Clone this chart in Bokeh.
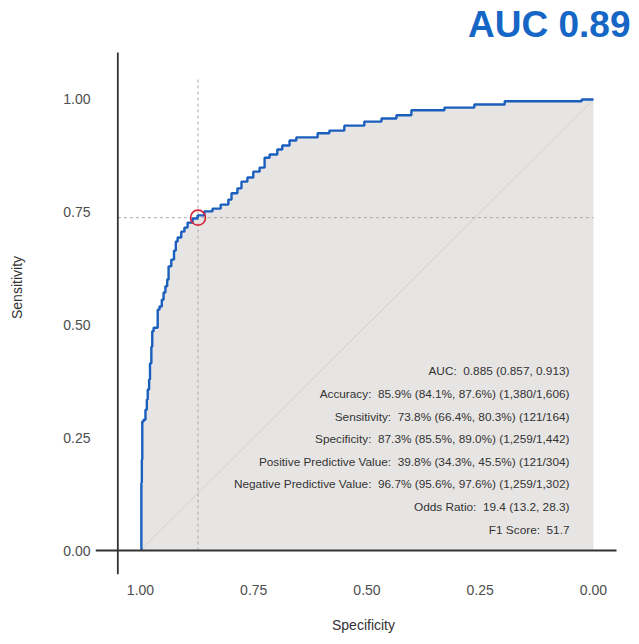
from bokeh.plotting import figure
from bokeh.models import Range1d, ColumnDataSource, Label
from bokeh.core.properties import value
from bokeh.embed import file_html
from bokeh.resources import INLINE

# ROC curve vertices (specificity, sensitivity); step: rise first, then move right
spec = [0.998, 0.997, 0.996, 0.993, 0.989, 0.986, 0.984, 0.981, 0.979, 0.976,
        0.974, 0.971, 0.962, 0.958, 0.953, 0.949, 0.945, 0.941, 0.938, 0.932,
        0.926, 0.922, 0.918, 0.910, 0.903, 0.896, 0.885, 0.874, 0.859, 0.841,
        0.823, 0.806, 0.799, 0.786, 0.777, 0.764, 0.751, 0.737, 0.726, 0.715,
        0.698, 0.687, 0.671, 0.656, 0.609, 0.583, 0.550, 0.506, 0.468, 0.435,
        0.402, 0.329, 0.263, 0.196, 0.026, 0.000]
sens = [0.000, 0.150, 0.202, 0.286, 0.290, 0.312, 0.335, 0.357, 0.379, 0.415,
        0.452, 0.486, 0.494, 0.534, 0.541, 0.556, 0.572, 0.586, 0.601, 0.630,
        0.645, 0.665, 0.685, 0.694, 0.707, 0.716, 0.727, 0.736, 0.743, 0.752,
        0.758, 0.767, 0.778, 0.792, 0.803, 0.818, 0.827, 0.840, 0.849, 0.871,
        0.878, 0.889, 0.898, 0.909, 0.916, 0.925, 0.931, 0.942, 0.951, 0.958,
        0.965, 0.976, 0.982, 0.989, 0.996, 1.000]

thr_spec = 0.873
thr_sens = 0.738

ticks = [0.0, 0.25, 0.5, 0.75, 1.0]
tick_labels = ["0.00", "0.25", "0.50", "0.75", "1.00"]

stats = [
    "AUC:\u00a0 0.885 (0.857, 0.913)",
    "Accuracy:\u00a0 85.9% (84.1%, 87.6%) (1,380/1,606)",
    "Sensitivity:\u00a0 73.8% (66.4%, 80.3%) (121/164)",
    "Specificity:\u00a0 87.3% (85.5%, 89.0%) (1,259/1,442)",
    "Positive Predictive Value:\u00a0 39.8% (34.3%, 45.5%) (121/304)",
    "Negative Predictive Value:\u00a0 96.7% (95.6%, 97.6%) (1,259/1,302)",
    "Odds Ratio:\u00a0 19.4 (13.2, 28.3)",
    "F1 Score:\u00a0 51.7",
]
title_text = "AUC 0.89"
x_title = "Specificity"
y_title = "Sensitivity"

FONT = "Liberation Sans"
AXIS_POS = 1.05          # where the crossing axis lines sit
X_LO, X_HI = 1.0993, -0.0839
Y_LO, Y_HI = -0.0532, 1.2195

p = figure(width=631, height=636, output_backend="svg", toolbar_location=None,
           x_range=Range1d(X_LO, X_HI), y_range=Range1d(Y_LO, Y_HI),
           min_border_left=95, min_border_right=0, min_border_top=0,
           min_border_bottom=62)
p.outline_line_color = None
p.xgrid.grid_line_color = None
p.ygrid.grid_line_color = None
p.background_fill_color = "white"

# staircase path
xs = [spec[0]]
ys = [sens[0]]
for i in range(1, len(spec)):
    xs += [spec[i - 1], spec[i]]
    ys += [sens[i], sens[i]]

# area under curve
p.patch(xs + [spec[-1], spec[0]], ys + [0.0, 0.0], fill_color="#e7e5e3",
        line_color=None)

# diagonal reference
p.line([1.0, 0.0], [0.0, 1.0], line_color="#c9c9c9", line_width=0.8)

# threshold crosshair
p.segment(x0=[thr_spec], y0=[0.0], x1=[thr_spec], y1=[AXIS_POS],
          line_color="#aaaaaa", line_width=1, line_dash="3 3")
p.segment(x0=[AXIS_POS], y0=[thr_sens], x1=[0.0], y1=[thr_sens],
          line_color="#aaaaaa", line_width=1, line_dash="3 3")

# ROC curve
p.line(xs, ys, line_color="#1b5fbe", line_width=2.4)

# threshold marker
p.scatter([thr_spec], [thr_sens], marker="circle", size=15, fill_color=None,
          line_color="#d8233d", line_width=1.6)

# axis lines (crossing style)
p.segment(x0=[X_LO], y0=[0.0], x1=[-0.0508], y1=[0.0],
          line_color="#333333", line_width=1.8)
p.segment(x0=[AXIS_POS], y0=[Y_LO], x1=[AXIS_POS], y1=[1.104],
          line_color="#333333", line_width=1.8)

# stats text
n = len(stats)
src = ColumnDataSource(dict(x=[0.053] * n,
                            y=[0.397 - 0.0501 * i for i in range(n)],
                            t=stats))
p.text(x="x", y="y", text="t", source=src, text_align="right",
       text_baseline="middle", text_font=value(FONT), text_font_size="11.8px",
       text_color="#333333")

# headline
p.add_layout(Label(x=-0.0817, y=1.166, text=title_text, text_align="right",
                   text_baseline="middle", text_font=FONT,
                   text_font_size="37px", text_font_style="bold",
                   text_color="#1666c5"))

for ax in (p.xaxis, p.yaxis):
    ax.ticker = ticks
    ax.major_label_overrides = {t: l for t, l in zip(ticks, tick_labels)}
    ax.axis_line_color = None
    ax.major_tick_line_color = None
    ax.minor_tick_line_color = None
    ax.major_tick_out = 0
    ax.major_tick_in = 0
    ax.major_label_text_font = FONT
    ax.major_label_text_font_size = "14px"
    ax.major_label_text_color = "#4d4d4d"
    ax.axis_label_text_font = FONT
    ax.axis_label_text_font_size = "14px"
    ax.axis_label_text_font_style = "normal"
    ax.axis_label_text_color = "#333333"

p.xaxis.axis_label = x_title
p.yaxis.axis_label = y_title
p.xaxis.major_label_standoff = 10
p.xaxis.axis_label_standoff = 19
p.yaxis.major_label_standoff = 5
p.yaxis.axis_label_standoff = 35

open("out.html", "w").write(file_html(p, INLINE))
